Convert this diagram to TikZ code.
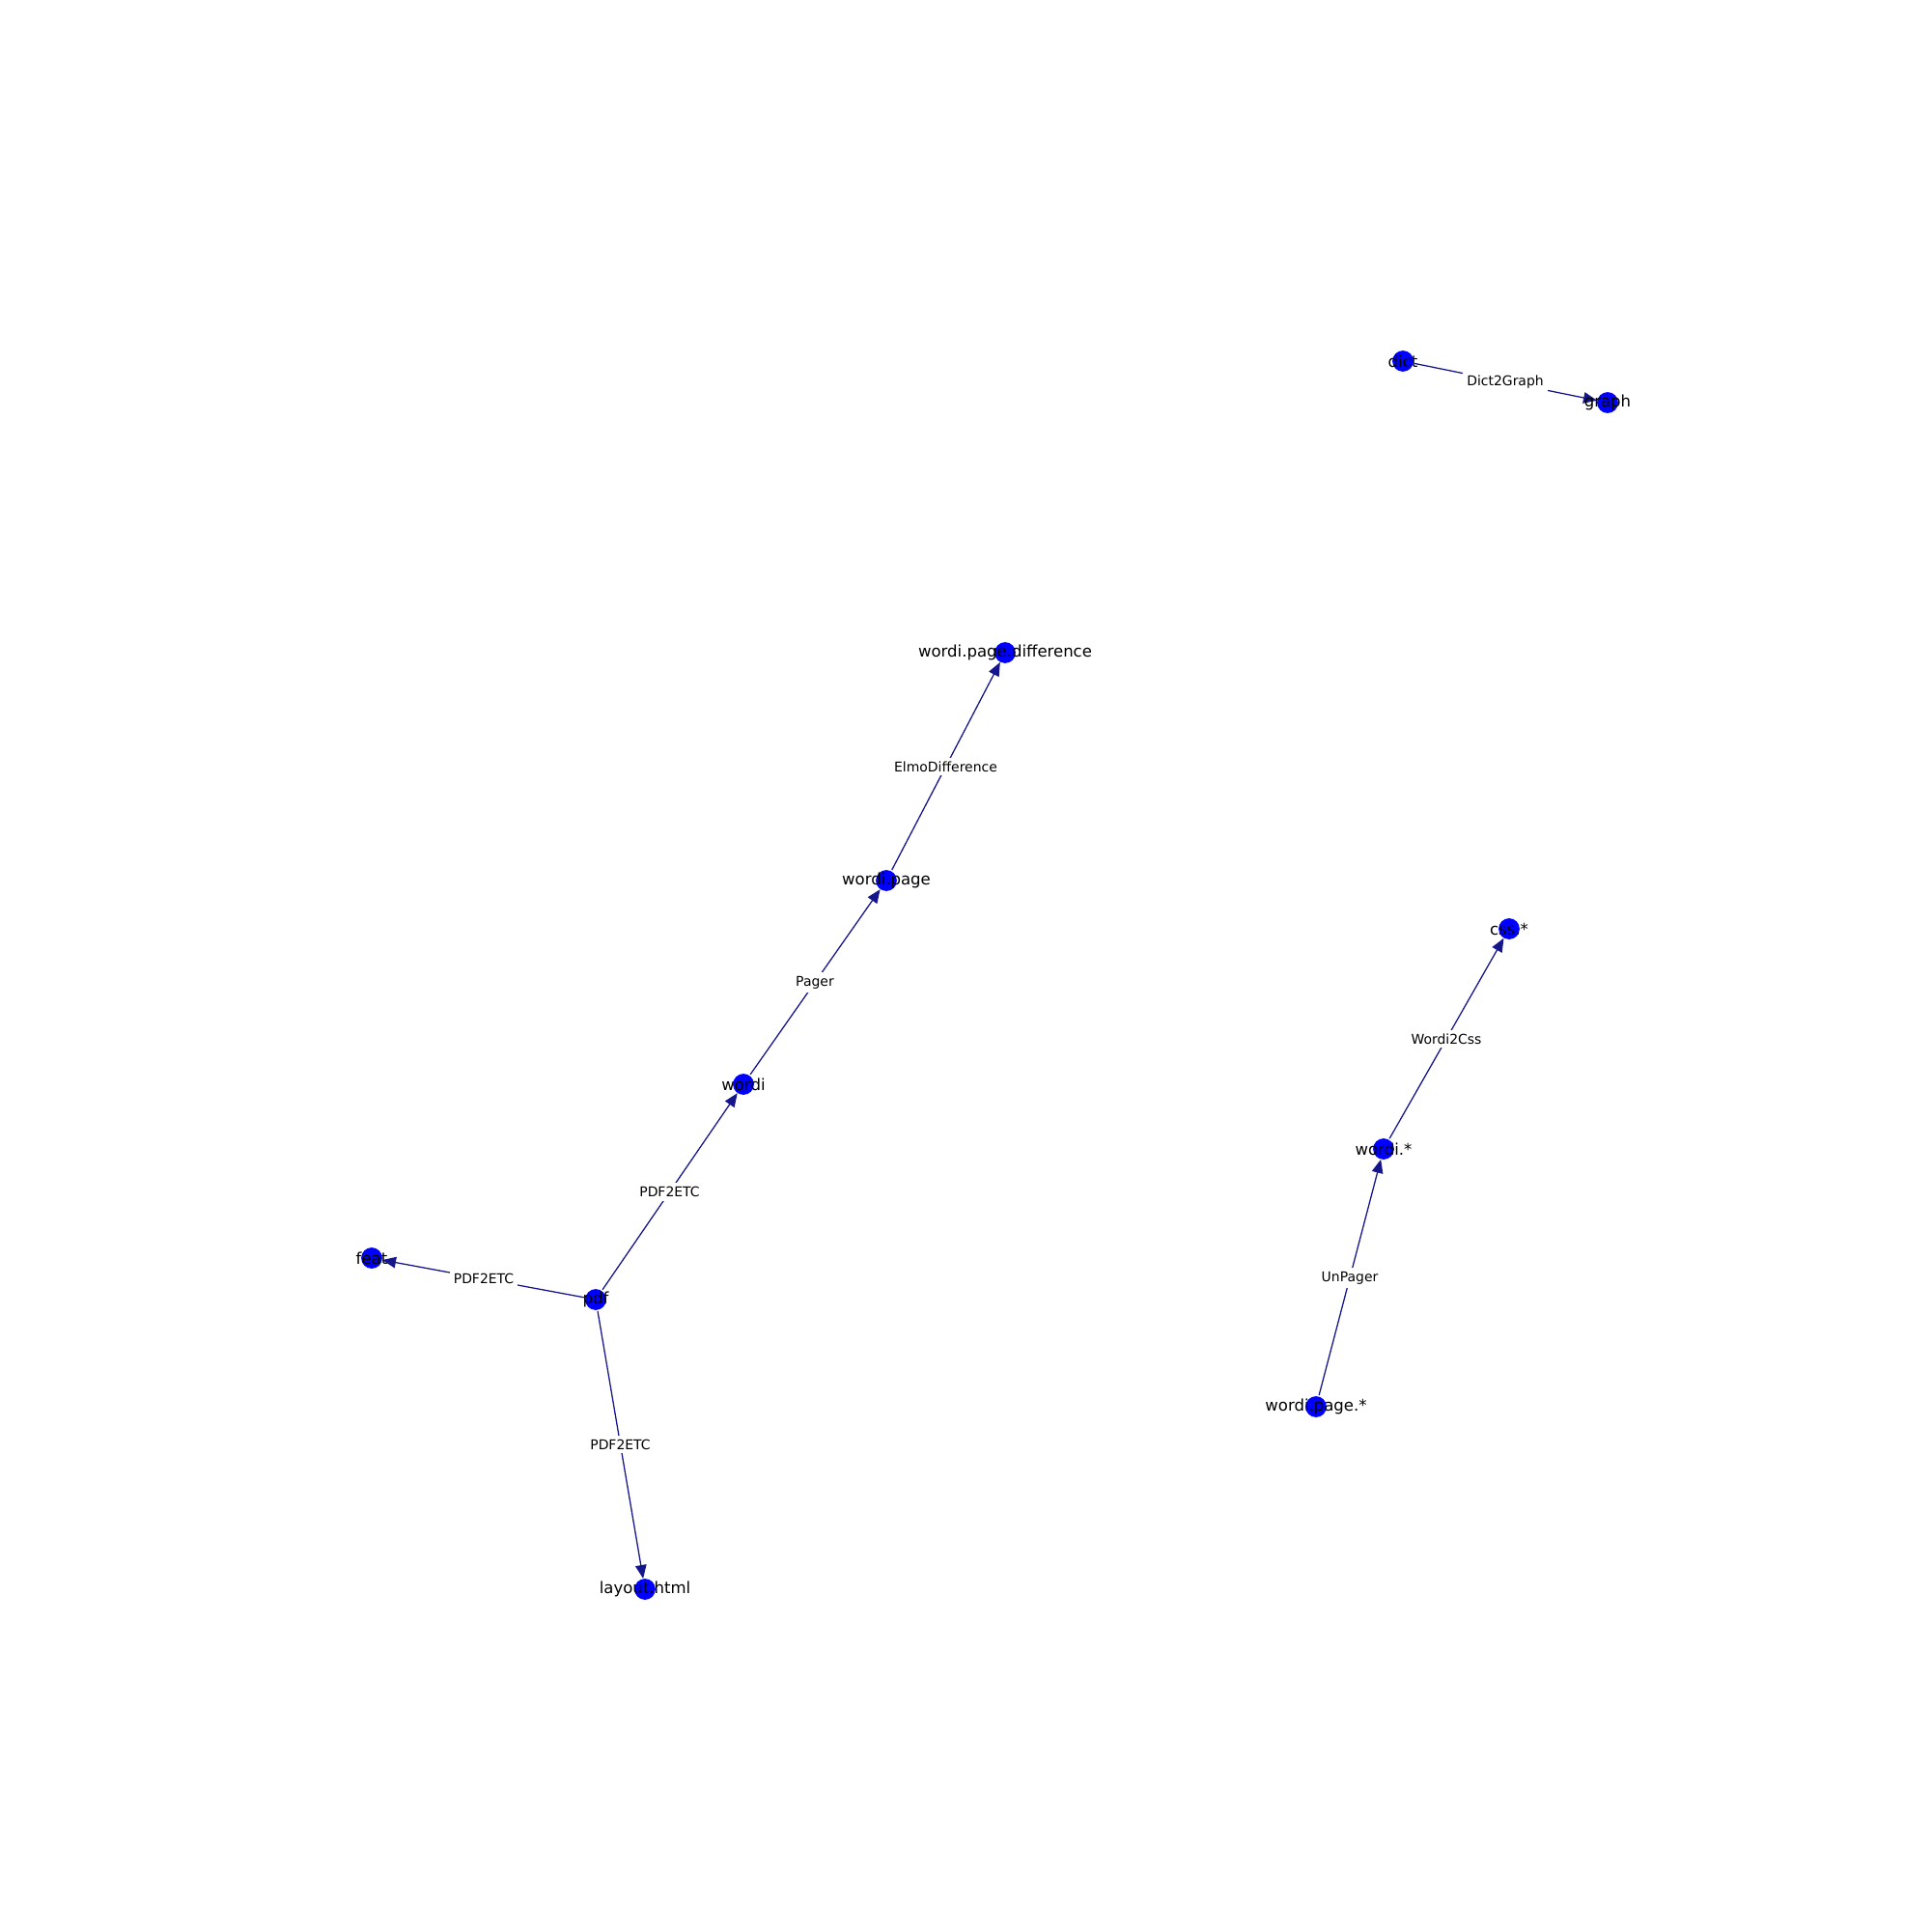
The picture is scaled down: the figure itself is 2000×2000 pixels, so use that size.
\documentclass[tikz,border=0pt]{standalone}
\usepackage{fontspec}
\setmainfont{DejaVu Sans}
\usetikzlibrary{arrows.meta}
\definecolor{edgecol}{RGB}{22,22,140}
\definecolor{nodecol}{RGB}{0,0,255}
\tikzset{
  dot/.style={circle,fill=nodecol,draw=none,minimum size=17pt,inner sep=0pt},
  nodetext/.style={font=\fontsize{12.9}{15}\selectfont,text=black,inner sep=0pt},
  edge/.style={draw=edgecol,line width=1pt,-{Triangle[length=11pt,width=9pt]},shorten <=1pt},
  elabel/.style={font=\fontsize{10.9}{13}\selectfont,fill=white,inner sep=3pt,text=black}
}
\begin{document}
\begin{tikzpicture}[x=0.781pt,y=-0.781pt]
\useasboundingbox (0,0) rectangle (2000,2000);
% nodes (circles)
\node[dot] (dict) at (1453,374) {};
\node[dot] (graph) at (1665,417) {};
\node[dot] (diff) at (1041,676) {};
\node[dot] (wpage) at (918,912) {};
\node[dot] (wordi) at (770,1123) {};
\node[dot] (feat) at (385,1303) {};
\node[dot] (pdf) at (617,1346) {};
\node[dot] (layout) at (668,1646) {};
\node[dot] (css) at (1563,962) {};
\node[dot] (wstar) at (1433,1190) {};
\node[dot] (wpstar) at (1363,1457) {};
% edges
\draw[edge] (dict) -- node[elabel]{Dict2Graph} (graph);
\draw[edge] (wpage) -- node[elabel]{ElmoDifference} (diff);
\draw[edge] (wordi) -- node[elabel]{Pager} (wpage);
\draw[edge] (pdf) -- node[elabel]{PDF2ETC} (wordi);
\draw[edge] (pdf) -- node[elabel]{PDF2ETC} (feat);
\draw[edge] (pdf) -- node[elabel]{PDF2ETC} (layout);
\draw[edge] (wstar) -- node[elabel]{Wordi2Css} (css);
\draw[edge] (wpstar) -- node[elabel]{UnPager} (wstar);
% node labels
\node[nodetext] (tdict) at (dict) {dict};
\node[nodetext] (tgraph) at (graph) {graph};
\node[nodetext] (tdiff) at (diff) {wordi.page.difference};
\node[nodetext] (twpage) at (wpage) {wordi.page};
\node[nodetext] (twordi) at (wordi) {wordi};
\node[nodetext] (tfeat) at (feat) {feat};
\node[nodetext] (tpdf) at (pdf) {pdf};
\node[nodetext] (tlayout) at (layout) {layout.html};
\node[nodetext] (tcss) at (css) {css.*};
\node[nodetext] (twstar) at (wstar) {wordi.*};
\node[nodetext] (twpstar) at (wpstar) {wordi.page.*};
\end{tikzpicture}
\end{document}
